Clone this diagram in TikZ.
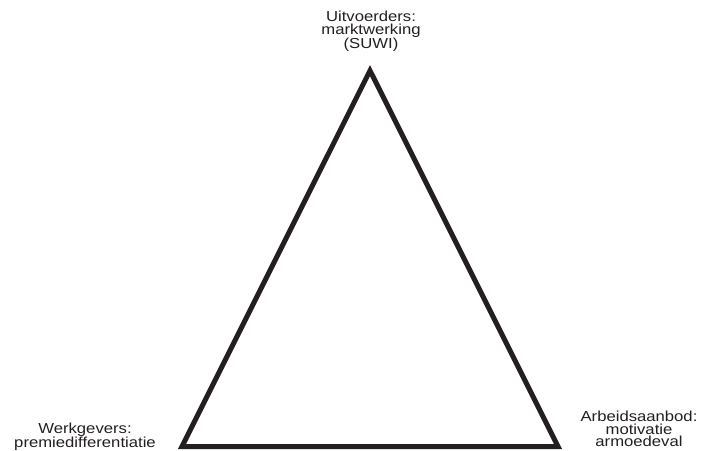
\documentclass[tikz,border=0pt]{standalone}
\usepackage{fontspec}
\setmainfont{Liberation Sans}[FakeStretch=1.15]
\definecolor{ink}{HTML}{231F20}
\begin{document}
\begin{tikzpicture}[x=1pt,y=-1pt,
  lbl/.style={inner sep=0pt,align=center,text=ink,anchor=north,
    font=\fontsize{14.5}{12.3}\selectfont},
  tri/.style={draw=ink,line width=5pt,line join=miter}]
\useasboundingbox (0,0) rectangle (701,450);
\coordinate (apex) at (370,70.6);
\coordinate (bl) at (182,446.5);
\coordinate (br) at (558,446.5);
\draw[tri] (apex) -- (bl) -- (br) -- cycle;
\node[lbl] (uit) at (371,11) {Uitvoerders:\\marktwerking\\(SUWI)};
\node[lbl] (werk) at (85,422.5) {Werkgevers:\\premiedifferentiatie};
\node[lbl] (arb) at (639,411) {Arbeidsaanbod:\\motivatie\\armoedeval};
\end{tikzpicture}
\end{document}
